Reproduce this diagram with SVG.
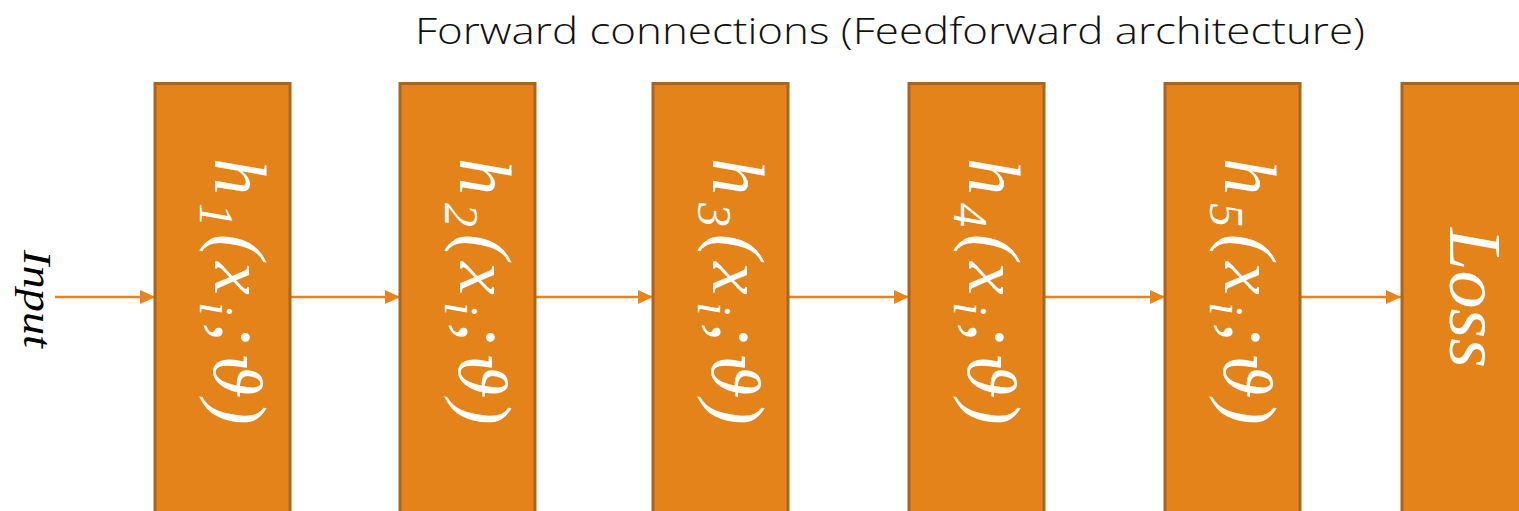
<svg xmlns="http://www.w3.org/2000/svg" width="1519" height="511" viewBox="0 0 1519 511">
  <style>
    .box { fill: #E4831A; stroke: #AB641C; stroke-width: 3; }
    .lbl { font-family: "Liberation Serif", "DejaVu Serif", serif; font-style: italic; fill: #FFFFFF; font-size: 74px; }
    .sub { font-size: 48px; }
    .th { font-family: "DejaVu Serif", "Liberation Serif", serif; font-size: 64px; }
    .conn { stroke: #E8831E; stroke-width: 2.5; fill: none; marker-end: url(#ah); }
    .title { font-family: "Open Sans", "Liberation Sans", sans-serif; font-weight: 300; font-size: 36px; fill: #111111; }
    .inp { font-family: "Liberation Serif", serif; font-style: italic; font-size: 40px; fill: #000000; }
  </style>
  <defs>
    <marker id="ah" markerWidth="15" markerHeight="14" refX="15" refY="7" orient="auto" markerUnits="userSpaceOnUse">
      <path d="M0,0 L15,7 L0,14 Z" fill="#E8831E"/>
    </marker>
  </defs>
  <rect width="1519" height="511" fill="#FFFFFF"/>

  <text class="title" x="890" y="44" text-anchor="middle" textLength="950" lengthAdjust="spacingAndGlyphs">Forward connections (Feedforward architecture)</text>

  <g id="input">
    <text class="inp" transform="translate(24,299) rotate(90)" text-anchor="middle" textLength="98" lengthAdjust="spacingAndGlyphs">Input</text>
  </g>

  <g id="connectors">
    <line class="conn" x1="55" y1="297" x2="155" y2="297"/>
    <line class="conn" x1="290" y1="297" x2="400" y2="297"/>
    <line class="conn" x1="535" y1="297" x2="653" y2="297"/>
    <line class="conn" x1="788" y1="297" x2="909" y2="297"/>
    <line class="conn" x1="1044" y1="297" x2="1165" y2="297"/>
    <line class="conn" x1="1300" y1="297" x2="1401" y2="297"/>
  </g>

  <g id="h1">
    <rect class="box" x="155" y="83.5" width="135" height="450"/>
    <text class="lbl" transform="translate(215,0) rotate(90)"><tspan x="158" y="0">h</tspan><tspan class="sub" x="203" y="15">1</tspan><tspan x="234" y="0">(</tspan><tspan x="262" y="0">x</tspan><tspan class="sub" x="302" y="15">i</tspan><tspan x="322" y="0">;</tspan><tspan class="th" x="353" y="0">ϑ</tspan><tspan x="400" y="0">)</tspan></text>
  </g>
  <g id="h2">
    <rect class="box" x="400" y="83.5" width="135" height="450"/>
    <text class="lbl" transform="translate(460,0) rotate(90)"><tspan x="158" y="0">h</tspan><tspan class="sub" x="203" y="15">2</tspan><tspan x="234" y="0">(</tspan><tspan x="262" y="0">x</tspan><tspan class="sub" x="302" y="15">i</tspan><tspan x="322" y="0">;</tspan><tspan class="th" x="353" y="0">ϑ</tspan><tspan x="400" y="0">)</tspan></text>
  </g>
  <g id="h3">
    <rect class="box" x="653" y="83.5" width="135" height="450"/>
    <text class="lbl" transform="translate(713,0) rotate(90)"><tspan x="158" y="0">h</tspan><tspan class="sub" x="203" y="15">3</tspan><tspan x="234" y="0">(</tspan><tspan x="262" y="0">x</tspan><tspan class="sub" x="302" y="15">i</tspan><tspan x="322" y="0">;</tspan><tspan class="th" x="353" y="0">ϑ</tspan><tspan x="400" y="0">)</tspan></text>
  </g>
  <g id="h4">
    <rect class="box" x="909" y="83.5" width="135" height="450"/>
    <text class="lbl" transform="translate(969,0) rotate(90)"><tspan x="158" y="0">h</tspan><tspan class="sub" x="203" y="15">4</tspan><tspan x="234" y="0">(</tspan><tspan x="262" y="0">x</tspan><tspan class="sub" x="302" y="15">i</tspan><tspan x="322" y="0">;</tspan><tspan class="th" x="353" y="0">ϑ</tspan><tspan x="400" y="0">)</tspan></text>
  </g>
  <g id="h5">
    <rect class="box" x="1165" y="83.5" width="135" height="450"/>
    <text class="lbl" transform="translate(1225,0) rotate(90)"><tspan x="158" y="0">h</tspan><tspan class="sub" x="203" y="15">5</tspan><tspan x="234" y="0">(</tspan><tspan x="262" y="0">x</tspan><tspan class="sub" x="302" y="15">i</tspan><tspan x="322" y="0">;</tspan><tspan class="th" x="353" y="0">ϑ</tspan><tspan x="400" y="0">)</tspan></text>
  </g>
  <g id="loss">
    <rect class="box" x="1402" y="83.5" width="135" height="450"/>
    <text class="lbl" transform="translate(1450,298) rotate(90)" text-anchor="middle" textLength="140" lengthAdjust="spacingAndGlyphs">Loss</text>
  </g>
</svg>
